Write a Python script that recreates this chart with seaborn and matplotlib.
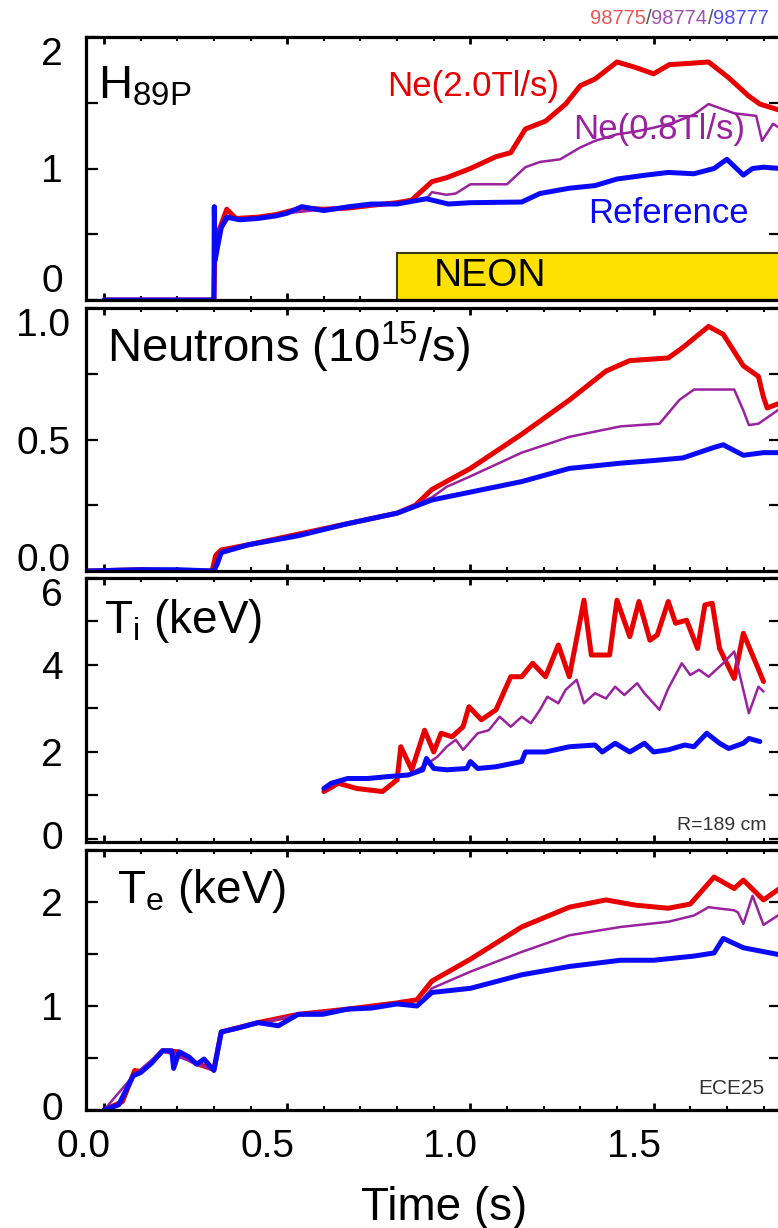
import matplotlib
matplotlib.use("Agg")
import matplotlib.pyplot as plt
import seaborn as sns
from matplotlib.patches import Rectangle
from matplotlib.transforms import ScaledTranslation

# ---------------- data (time in s) ----------------
# H89P confinement factor
h_ref_t = [0.0, 0.30, 0.301, 0.303, 0.32, 0.335, 0.37, 0.42, 0.47, 0.50, 0.54, 0.60, 0.67,
           0.73, 0.80, 0.88, 0.94, 1.00, 1.14, 1.19, 1.27, 1.34, 1.40, 1.48, 1.54, 1.61,
           1.665, 1.70, 1.745, 1.77, 1.80, 1.848]
h_ref = [0.0, 0.0, 0.71, 0.30, 0.55, 0.63, 0.61, 0.62, 0.64, 0.66, 0.71, 0.68, 0.71,
         0.73, 0.73, 0.77, 0.73, 0.74, 0.745, 0.81, 0.85, 0.87, 0.92, 0.95, 0.97, 0.96,
         1.00, 1.07, 0.95, 1.00, 1.01, 1.00]
h_ne20_t = [0.0, 0.30, 0.302, 0.31, 0.335, 0.36, 0.42, 0.47, 0.54, 0.60, 0.67, 0.73, 0.80,
            0.84, 0.895, 0.935, 1.0, 1.07, 1.11, 1.15, 1.205, 1.26, 1.30, 1.34, 1.40, 1.449,
            1.50, 1.543, 1.60, 1.65, 1.705, 1.76, 1.79, 1.848]
h_ne20 = [0.0, 0.0, 0.30, 0.50, 0.69, 0.62, 0.63, 0.65, 0.70, 0.69, 0.70, 0.72, 0.74,
          0.76, 0.90, 0.93, 1.00, 1.09, 1.12, 1.30, 1.36, 1.49, 1.63, 1.68, 1.81, 1.77,
          1.72, 1.79, 1.80, 1.81, 1.69, 1.55, 1.49, 1.44]
h_ne08_t = [0.0, 0.30, 0.302, 0.31, 0.34, 0.42, 0.50, 0.60, 0.70, 0.80, 0.88, 0.895, 0.935,
            0.96, 1.0, 1.10, 1.15, 1.19, 1.245, 1.30, 1.34, 1.40, 1.449, 1.50, 1.556, 1.61,
            1.65, 1.72, 1.78, 1.796, 1.826, 1.848]
h_ne08 = [0.0, 0.0, 0.30, 0.50, 0.62, 0.62, 0.66, 0.69, 0.71, 0.73, 0.77, 0.82, 0.80,
          0.81, 0.88, 0.88, 1.01, 1.05, 1.07, 1.16, 1.21, 1.26, 1.28, 1.31, 1.35, 1.41,
          1.49, 1.42, 1.40, 1.21, 1.34, 1.30]

# Neutron rate (1e15/s)
n_ref_t = [-0.045, 0.10, 0.20, 0.30, 0.31, 0.32, 0.395, 0.53, 0.665, 0.80, 0.895, 1.0,
           1.14, 1.27, 1.41, 1.50, 1.58, 1.665, 1.69, 1.745, 1.80, 1.848]
n_ref = [0.0, 0.005, 0.005, 0.0, 0.03, 0.07, 0.10, 0.134, 0.18, 0.22, 0.27, 0.30,
         0.34, 0.39, 0.41, 0.42, 0.43, 0.47, 0.48, 0.44, 0.45, 0.45]
n_ne20_t = [-0.045, 0.10, 0.20, 0.295, 0.305, 0.32, 0.395, 0.53, 0.665, 0.80, 0.85, 0.895,
            1.0, 1.14, 1.27, 1.37, 1.435, 1.54, 1.58, 1.65, 1.69, 1.745, 1.786, 1.80,
            1.81, 1.848]
n_ne20 = [0.0, 0.005, 0.0, 0.0, 0.06, 0.08, 0.10, 0.14, 0.18, 0.22, 0.25, 0.31,
          0.39, 0.52, 0.65, 0.76, 0.80, 0.81, 0.85, 0.93, 0.90, 0.78, 0.74, 0.66,
          0.62, 0.64]
n_ne08_t = [-0.045, 0.30, 0.31, 0.32, 0.395, 0.53, 0.665, 0.80, 0.895, 0.935, 1.0, 1.14,
            1.27, 1.41, 1.516, 1.57, 1.61, 1.72, 1.745, 1.76, 1.786, 1.848]
n_ne08 = [0.0, 0.0, 0.04, 0.07, 0.10, 0.134, 0.18, 0.22, 0.28, 0.32, 0.36, 0.45,
          0.51, 0.55, 0.56, 0.65, 0.69, 0.69, 0.61, 0.555, 0.56, 0.62]

# Ion temperature (keV), R = 189 cm
ti_ref_t = [0.60, 0.62, 0.665, 0.72, 0.77, 0.83, 0.87, 0.88, 0.90, 0.935, 0.99, 1.0, 1.02,
            1.07, 1.14, 1.15, 1.205, 1.27, 1.34, 1.36, 1.395, 1.435, 1.475, 1.50, 1.54,
            1.585, 1.61, 1.645, 1.68, 1.705, 1.745, 1.76, 1.79]
ti_ref = [1.16, 1.28, 1.39, 1.39, 1.43, 1.47, 1.59, 1.85, 1.62, 1.59, 1.62, 1.78, 1.62,
          1.66, 1.78, 2.0, 2.0, 2.12, 2.16, 2.0, 2.2, 2.0, 2.2, 2.0, 2.05,
          2.16, 2.12, 2.43, 2.2, 2.08, 2.2, 2.31, 2.24]
ti_ne20_t = [0.60, 0.64, 0.69, 0.76, 0.80, 0.81, 0.84, 0.875, 0.90, 0.92, 0.95, 0.98, 0.996,
             1.03, 1.07, 1.11, 1.14, 1.17, 1.205, 1.24, 1.27, 1.31, 1.33, 1.38, 1.40, 1.435,
             1.46, 1.49, 1.51, 1.54, 1.56, 1.59, 1.62, 1.64, 1.66, 1.68, 1.72, 1.745, 1.80]
ti_ne20 = [1.09, 1.28, 1.16, 1.09, 1.36, 2.12, 1.59, 2.5, 2.0, 2.43, 2.35, 2.58, 3.04,
           2.74, 2.97, 3.73, 3.73, 4.04, 3.73, 4.46, 3.73, 5.49, 4.23, 4.23, 5.49, 4.65,
           5.46, 4.57, 4.69, 5.46, 4.96, 5.03, 4.38, 5.38, 5.42, 4.38, 3.69, 4.73, 3.62]
ti_ne08_t = [0.60, 0.665, 0.77, 0.83, 0.87, 0.91, 0.935, 0.96, 0.98, 1.02, 1.05, 1.08, 1.11,
             1.14, 1.165, 1.19, 1.21, 1.24, 1.26, 1.29, 1.31, 1.34, 1.37, 1.395, 1.42, 1.455,
             1.475, 1.516, 1.54, 1.577, 1.60, 1.624, 1.65, 1.69, 1.72, 1.76, 1.786, 1.80]
ti_ne08 = [1.16, 1.39, 1.43, 1.47, 1.66, 1.89, 2.12, 2.28, 2.05, 2.43, 2.5, 2.81, 2.58,
           2.81, 2.66, 2.97, 3.27, 3.12, 3.43, 3.66, 3.12, 3.35, 3.23, 3.50, 3.31, 3.58,
           3.35, 2.97, 3.46, 4.04, 3.77, 3.89, 3.73, 4.04, 4.31, 2.89, 3.50, 3.39]

# Electron temperature (keV), ECE channel 25
te_ref_t = [0.0, 0.04, 0.08, 0.10, 0.13, 0.16, 0.185, 0.19, 0.205, 0.232, 0.253, 0.273,
            0.30, 0.32, 0.368, 0.42, 0.476, 0.53, 0.597, 0.665, 0.73, 0.80, 0.854, 0.895,
            1.0, 1.14, 1.27, 1.41, 1.50, 1.61, 1.665, 1.69, 1.745, 1.848]
te_ref = [0.0, 0.05, 0.33, 0.36, 0.45, 0.57, 0.57, 0.40, 0.56, 0.51, 0.44, 0.49,
          0.38, 0.75, 0.79, 0.84, 0.81, 0.92, 0.92, 0.97, 0.98, 1.02, 1.0, 1.13,
          1.17, 1.30, 1.38, 1.44, 1.44, 1.48, 1.51, 1.65, 1.56, 1.49]
te_ne20_t = [0.0, 0.05, 0.084, 0.10, 0.13, 0.16, 0.20, 0.25, 0.30, 0.32, 0.42, 0.53,
             0.665, 0.80, 0.854, 0.895, 1.0, 1.14, 1.27, 1.37, 1.45, 1.54, 1.60, 1.665,
             1.72, 1.745, 1.80, 1.848]
te_ne20 = [0.0, 0.08, 0.38, 0.37, 0.46, 0.57, 0.56, 0.45, 0.39, 0.75, 0.84, 0.92,
           0.97, 1.03, 1.06, 1.24, 1.45, 1.76, 1.95, 2.02, 1.97, 1.94, 1.98, 2.24,
           2.13, 2.21, 2.02, 2.14]
te_ne08_t = [0.0, 0.08, 0.16, 0.30, 0.32, 0.53, 0.80, 0.854, 0.895, 1.0, 1.14, 1.27, 1.41,
             1.54, 1.61, 1.65, 1.72, 1.73, 1.745, 1.77, 1.80, 1.848]
te_ne08 = [0.0, 0.33, 0.57, 0.38, 0.75, 0.92, 1.02, 1.0, 1.17, 1.33, 1.52, 1.68, 1.76,
           1.81, 1.87, 1.95, 1.92, 1.90, 1.79, 2.06, 1.78, 1.89]

neon_start, neon_height = 0.80, 0.36

RED, PURPLE, BLUE = "#E80000", "#9A229E", "#0A0AF8"

# ---------------- style ----------------
sns.set_theme(style="white")
plt.rcParams["font.family"] = ["Liberation Sans", "DejaVu Sans"]
plt.rcParams["mathtext.fontset"] = "custom"
plt.rcParams["mathtext.rm"] = "Liberation Sans"
plt.rcParams["mathtext.it"] = "Liberation Sans"
plt.rcParams["mathtext.default"] = "regular"
plt.rcParams["text.color"] = "black"
plt.rcParams["xtick.color"] = "black"
plt.rcParams["ytick.color"] = "black"
plt.rcParams["xtick.labelcolor"] = "black"
plt.rcParams["ytick.labelcolor"] = "black"

W, H = 778, 1228
fig = plt.figure(figsize=(W / 100, H / 100), dpi=100)

LEFT, RIGHT = 86, 781
T0_PX, PX_PER_S = 104, 366.4
XLIM = ((LEFT - T0_PX) / PX_PER_S, (RIGHT - T0_PX) / PX_PER_S)


def make_axes(top, bottom):
    return fig.add_axes([LEFT / W, 1 - bottom / H, (RIGHT - LEFT) / W, (bottom - top) / H])


def draw(ax, t, v, color, lw):
    sns.lineplot(x=t, y=v, ax=ax, color=color, linewidth=lw, estimator=None,
                 sort=False, legend=False, solid_joinstyle="round",
                 solid_capstyle="round")


def style(ax, yticks, ylabels, ylim, ypad, va_first="center", va_last="top"):
    ax.set_xlim(*XLIM)
    ax.set_ylim(*ylim)
    ax.set_xticks([0.0, 0.5, 1.0, 1.5])
    ax.set_xticks([i / 10 for i in range(0, 19)], minor=True)
    ax.set_yticks(yticks, ylabels)
    for s in ax.spines.values():
        s.set_color("black")
        s.set_linewidth(2.3)
    ax.tick_params(axis="x", which="major", direction="in", length=5, width=2,
                   top=True, bottom=True, labelbottom=False, color="black")
    ax.tick_params(axis="x", which="minor", direction="in", length=3, width=1.5,
                   top=True, bottom=True, color="black")
    ax.tick_params(axis="y", which="major", direction="in", length=8.5, width=1.6,
                   left=True, right=True, labelsize=28, pad=ypad, color="black",
                   labelcolor="black")
    ax.set_xlabel("")
    ax.set_ylabel("")
    labels = ax.get_yticklabels()
    labels[0].set_va(va_first)
    if va_last:
        labels[-1].set_va(va_last)


ax1 = make_axes(37, 300)
ax2 = make_axes(308, 571)
ax3 = make_axes(578, 842)
ax4 = make_axes(850, 1110)

LW_THICK, LW_THIN = 3.6, 1.8

# H89P panel
ax1.add_patch(Rectangle((neon_start, 0), 2.0, neon_height, facecolor="#FFE100",
                        edgecolor="#3a3a10", linewidth=1.5, zorder=1))
ax1.text(0.90, 0.18, "NEON", fontsize=28, va="center", ha="left", color="black")
draw(ax1, h_ne20_t, h_ne20, RED, LW_THICK)
draw(ax1, h_ne08_t, h_ne08, PURPLE, LW_THIN)
draw(ax1, h_ref_t, h_ref, BLUE, LW_THICK)
style(ax1, [0, 0.5, 1, 1.5, 2], ["0", "", "1", "", "2"], (0, 2), 16.5,
      va_first="bottom")
ax1.text(-0.016, 1.53, r"H$_{89P}$", fontsize=34, va="baseline", ha="left")
ax1.text(0.772, 1.62, "Ne(2.0Tl/s)", fontsize=25, color=RED, va="center", ha="left")
ax1.text(1.28, 1.30, "Ne(0.8Tl/s)", fontsize=25, color=PURPLE, va="center", ha="left")
ax1.text(1.32, 0.66, "Reference", fontsize=25, color=BLUE, va="center", ha="left")

# Neutron panel
draw(ax2, n_ne20_t, n_ne20, RED, LW_THICK)
draw(ax2, n_ne08_t, n_ne08, PURPLE, LW_THIN)
draw(ax2, n_ref_t, n_ref, BLUE, LW_THICK)
style(ax2, [0, 0.25, 0.5, 0.75, 1.0], ["0.0", "", "0.5", "", "1.0"], (0, 1.0), 11.5,
      va_first="baseline")
ax2.text(0.008, 0.795, r"Neutrons (10$^{15}$/s)", fontsize=34, va="baseline", ha="left")

# Ion temperature panel
draw(ax3, ti_ne20_t, ti_ne20, RED, LW_THICK)
draw(ax3, ti_ne08_t, ti_ne08, PURPLE, LW_THIN)
draw(ax3, ti_ref_t, ti_ref, BLUE, LW_THICK)
style(ax3, [0, 1, 2, 3, 4, 5, 6], ["0", "", "2", "", "4", "", "6"], (-0.07, 6), 16.5)
ax3.text(0.0, 4.74, r"T$_{i}$ (keV)", fontsize=33, va="baseline", ha="left")
ax3.text(1.564, 0.30, "R=189 cm", fontsize=14, color="#333333", va="center", ha="left")

# Electron temperature panel
draw(ax4, te_ne20_t, te_ne20, RED, LW_THICK)
draw(ax4, te_ne08_t, te_ne08, PURPLE, LW_THIN)
draw(ax4, te_ref_t, te_ref, BLUE, LW_THICK)
style(ax4, [0, 0.5, 1, 1.5, 2, 2.5], ["0", "", "1", "", "2", ""], (0, 2.5), 16.5,
      va_last=None)
ax4.text(0.035, 1.99, r"T$_{e}$ (keV)", fontsize=33, va="baseline", ha="left")
ax4.text(1.621, 0.21, "ECE25", fontsize=15, color="#333333", va="center", ha="left")
ax4.tick_params(axis="x", which="major", labelbottom=True, labelsize=28, pad=14,
                labelcolor="black")
ax4.set_xticks([0.0, 0.5, 1.0, 1.5], ["0.0", "0.5", "1.0", "1.5"])
shift = ScaledTranslation(-0.2, 0, fig.dpi_scale_trans)
for lbl in ax4.get_xticklabels():
    lbl.set_transform(lbl.get_transform() + shift)

fig.text(444 / W, 1 - 1220 / H, "Time (s)", fontsize=33, ha="center", va="baseline")

# shot numbers, coloured per discharge
parts = [("98775", "#EE5555"), ("/", "#555555"), ("98774", "#A050B0"),
         ("/", "#555555"), ("98777", "#5050F0")]
txt = fig.text(590 / W, 1 - 24 / H, parts[0][0], color=parts[0][1], fontsize=14.5,
               va="baseline", ha="left")
for s, c in parts[1:]:
    txt = ax1.annotate(s, xy=(1, 0), xycoords=txt, va="bottom", ha="left",
                       color=c, fontsize=14.5, annotation_clip=False)

fig.savefig("out.png", dpi=100)
